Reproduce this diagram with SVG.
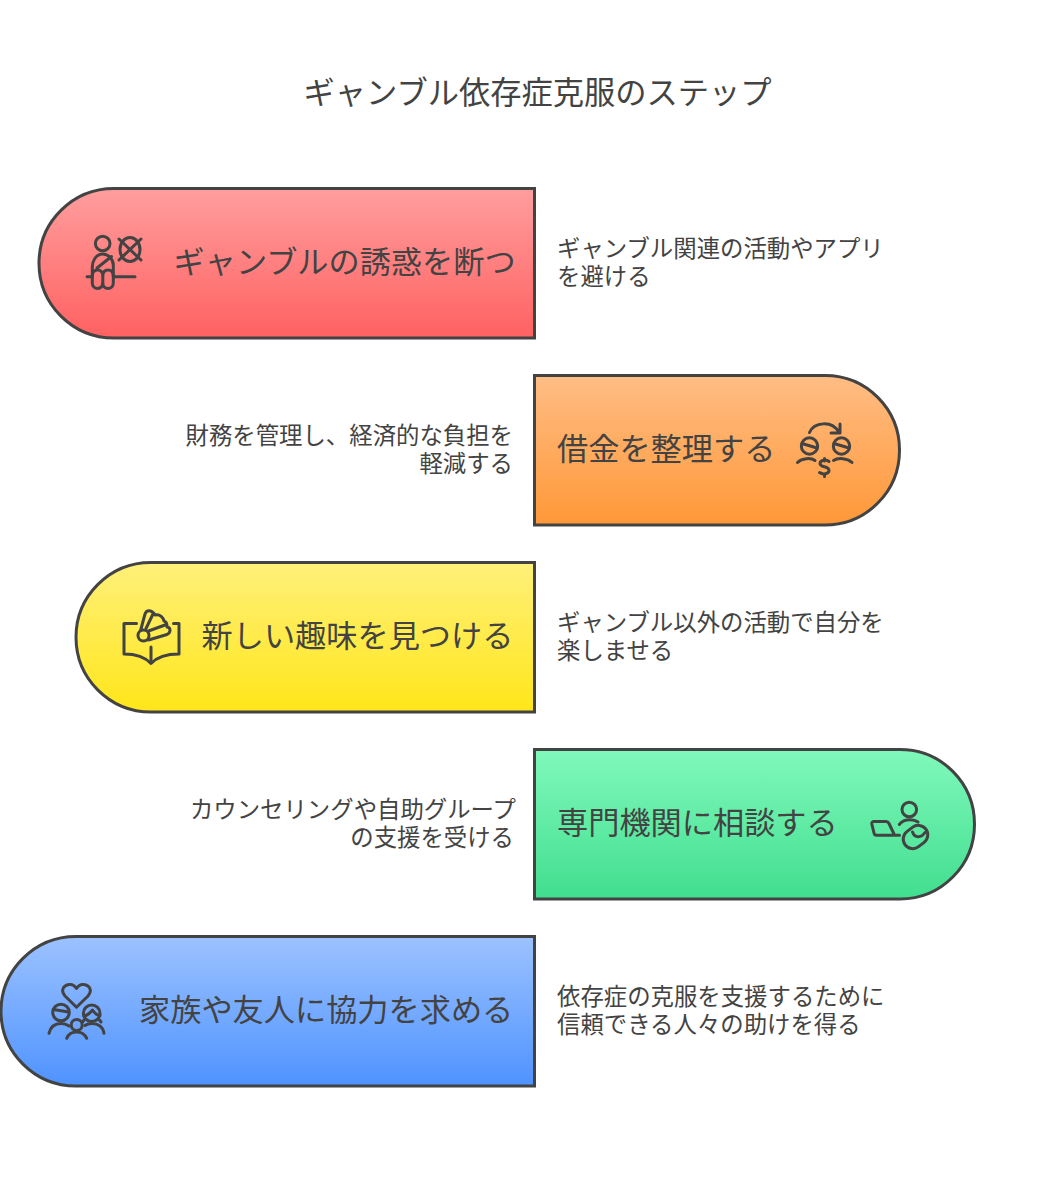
<svg xmlns="http://www.w3.org/2000/svg" width="1060" height="1200" viewBox="0 0 1060 1200">
<style>
text{font-family:"Noto Sans CJK JP","Noto Sans",sans-serif;fill:#434343}
.t{font-size:31.25px}
.l{font-size:31.2px}
.d{font-size:23.4px}
.n{stroke:#434343;stroke-width:3}
.i{fill:none;stroke:#434343;stroke-width:3;stroke-linecap:round;stroke-linejoin:round}
</style>
<defs>
<linearGradient id="g1" x1="0" y1="0" x2="0" y2="1"><stop offset="0" stop-color="#ff9e9e"/><stop offset="1" stop-color="#ff6161"/></linearGradient>
<linearGradient id="g2" x1="0" y1="0" x2="0" y2="1"><stop offset="0" stop-color="#ffbd85"/><stop offset="1" stop-color="#ff9838"/></linearGradient>
<linearGradient id="g3" x1="0" y1="0" x2="0" y2="1"><stop offset="0" stop-color="#fff07a"/><stop offset="1" stop-color="#ffe61a"/></linearGradient>
<linearGradient id="g4" x1="0" y1="0" x2="0" y2="1"><stop offset="0" stop-color="#80f9bb"/><stop offset="1" stop-color="#41de8f"/></linearGradient>
<linearGradient id="g5" x1="0" y1="0" x2="0" y2="1"><stop offset="0" stop-color="#9cc2ff"/><stop offset="1" stop-color="#4f93ff"/></linearGradient>
</defs>
<rect width="1060" height="1200" fill="#fff"/>
<text class="t" x="537.5" y="104" text-anchor="middle">ギャンブル依存症克服のステップ</text>
<g id="connectors"/>
<g id="node1">
<path class="n" fill="url(#g1)" d="M534.500 188.500V338H114C72.500 338 39 304.500 39 263.200S72.500 188.500 114 188.500Z"/>
<g class="i">
<circle cx="102.700" cy="243.500" r="7.300"/>
<path d="M102.700 254C96 254 92.300 261 92.300 267V283C92.300 286 94.500 288.500 97.800 288.500C100.500 288.500 102.800 286 102.800 283C102.800 286 105 288.500 108 288.500C111 288.500 113.300 286 113.300 283V265C113.300 259 108 254 102.700 254Z"/>
<path d="M92.300 276C92.300 272 94.500 270 97.800 270C100.500 270 102.800 272 102.800 276V283M102.800 276C102.800 272 105 270 108 270C111 270 113.300 272 113.300 276"/>
<path d="M97 268L111.500 256.500"/>
<path d="M87 276.700H92M113.500 276.700H135"/>
<ellipse cx="130" cy="249.500" rx="10" ry="12"/>
<path d="M119 239L141 260M141 239L119 260"/>
</g>
<text class="l" x="173.500" y="273">ギャンブルの誘惑を断つ</text>
</g>
<text class="d" x="557" y="257">ギャンブル関連の活動やアプリ</text>
<text class="d" x="557" y="285">を避ける</text>
<g id="node2">
<path class="n" fill="url(#g2)" d="M534.500 375.500H825C866.500 375.500 899.500 409 899.500 450.200S866.500 525 825 525H534.500Z"/>
<g class="i">
<path d="M809.500 432.500C814 422 832 420 839 432.500M840 424V433H831"/>
<circle cx="809.500" cy="446" r="8.200"/><path d="M802 443.500L817 448"/>
<path d="M797.500 462.500C802 458 811 457.500 815 460.500"/>
<circle cx="841.500" cy="446" r="8.200"/><path d="M834 443.500L849 448"/>
<path d="M833.500 460.500C838 457.500 847 458 852 462.500"/>
<path d="M829 461.500C826 459 820 460 820 463.500C820 468 829 465.500 829 470.500C829 474 823 475 819.500 472.500M824.500 458.500V461M824.500 474V476.500"/>
</g>
<text class="l" x="557" y="460">借金を整理する</text>
</g>
<text class="d" x="513" y="444" text-anchor="end">財務を管理し、経済的な負担を</text>
<text class="d" x="513" y="472" text-anchor="end">軽減する</text>
<g id="node3">
<path class="n" fill="url(#g3)" d="M534.500 562.500V712H151C109.500 712 76 678.500 76 637.200S109.500 562.500 151 562.500Z"/>
<g class="i">
<path d="M136.500 623.500H124V654C134 654 144 656 151 663.500C158 656 168 654 179 654V623.500H173.500"/>
<path d="M151 647V661"/>
<circle cx="143.500" cy="635.500" r="5.500"/>
<path d="M140.700 630L145 614C146.500 609.500 152 609.500 155 615C160 613.500 163.500 618 164 621C167.500 622 167 626 167 627C171 627.500 171 632.500 167 634.500L148.500 640"/>
<path d="M146 628.500L153 614M148.500 631L165 625"/>
</g>
<text class="l" x="201.500" y="647">新しい趣味を見つける</text>
</g>
<text class="d" x="557" y="631">ギャンブル以外の活動で自分を</text>
<text class="d" x="557" y="659">楽しませる</text>
<g id="node4">
<path class="n" fill="url(#g4)" d="M534.500 749.500H900C941.500 749.500 974.500 783 974.500 824.200S941.500 899 900 899H534.500Z"/>
<g class="i">
<circle cx="909.300" cy="809.500" r="7.300"/>
<path d="M899.300 824.500C902 821 906 819.800 910 819.800C913 819.800 916 820.500 918 822"/>
<path d="M899.500 835.300H876.500C875 835.300 874.300 834.500 874 833L871.800 824C871.500 822.500 872.500 821.500 874 821.500H886C887.500 821.500 888.300 822 889 823.500L894.500 835"/>
<rect x="902.500" y="827.500" width="26" height="19" rx="9.500" transform="rotate(-38 915.500 837)"/>
<path d="M912.500 832C914.500 838 921 838.500 925 832.500"/>
</g>
<text class="l" x="557" y="834">専門機関に相談する</text>
</g>
<text class="d" x="516" y="818" text-anchor="end">カウンセリングや自助グループ</text>
<text class="d" x="514" y="846" text-anchor="end">の支援を受ける</text>
<g id="node5">
<path class="n" fill="url(#g5)" d="M534.500 936.500V1086H76C34.500 1086 1 1052.500 1 1011.200S34.500 936.500 76 936.500Z"/>
<g class="i">
<path d="M76.500 1007.300L65 996C60 990 64 985 69 984.500C72.500 984 75 986 76.500 988.500C78 986 80.500 984 84 984.500C89 985 93 990 88 996Z"/>
<circle cx="61" cy="1012.500" r="8.300"/><path d="M53.500 1009.500L68.500 1012"/>
<path d="M49 1033.300C50.500 1027 55 1023.500 61 1023.500C64 1023.500 67 1024.500 69 1026"/>
<circle cx="91.700" cy="1013.300" r="8.300"/><path d="M84 1016C88 1015 91 1012 92.500 1010C94.500 1013 97 1015.500 100 1015.500M84 1020L82.500 1022M99.500 1020L101 1022"/>
<path d="M85 1025.500C87 1024 89.500 1023.500 92 1023.500C98 1023.500 103 1027 104 1033.300"/>
<circle cx="76.700" cy="1025" r="5.500"/>
<path d="M66.700 1038.300C68.500 1034 72 1032 76.700 1032C81 1032 84.500 1034 86.700 1038.300"/>
</g>
<text class="l" x="139" y="1021">家族や友人に協力を求める</text>
</g>
<text class="d" x="557" y="1005">依存症の克服を支援するために</text>
<text class="d" x="557" y="1033">信頼できる人々の助けを得る</text>
</svg>
